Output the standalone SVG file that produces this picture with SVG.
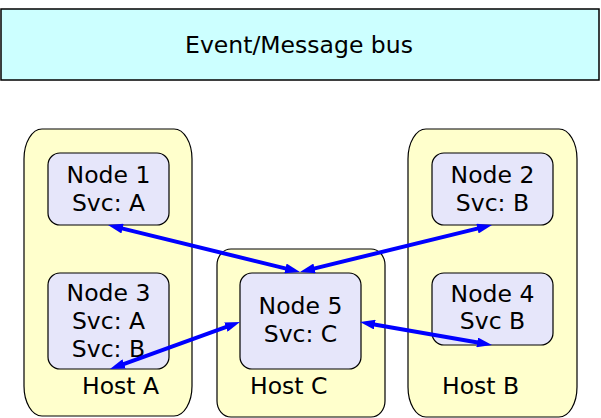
<svg xmlns="http://www.w3.org/2000/svg" width="601" height="418" viewBox="0 0 601 418">
  <style>
    text { font-family: "DejaVu Sans", "Liberation Sans", sans-serif; font-size: 23.5px; fill: #000; }
    .mid { text-anchor: middle; }
    .bus { fill: #ccffff; stroke: #000; stroke-width: 1.5; }
    .host { fill: #ffffcc; stroke: #000; stroke-width: 1.2; }
    .node { fill: #e6e6fa; stroke: #000; stroke-width: 1.2; }
    .link { stroke: #0000ff; stroke-width: 4; fill: none; marker-start: url(#arrow); marker-end: url(#arrow); }
  </style>
  <defs>
    <marker id="arrow" viewBox="0 0 15 10" refX="5" refY="5" markerWidth="15" markerHeight="10" markerUnits="userSpaceOnUse" orient="auto-start-reverse">
      <path d="M0,0 L15,5 L0,10 z" fill="#0000ff"/>
    </marker>
  </defs>

  <rect width="601" height="418" fill="#ffffff"/>

  <g id="bus">
    <rect class="bus" x="1" y="9" width="598" height="71"/>
    <text class="mid" x="299" y="53">Event/Message bus</text>
  </g>

  <g id="host-a">
    <rect class="host" x="24" y="129" width="168" height="287" rx="18" ry="30"/>
    <text x="82" y="394">Host A</text>
  </g>
  <g id="host-c">
    <rect class="host" x="217" y="249" width="168" height="168" rx="14" ry="16"/>
    <text x="250" y="394">Host C</text>
  </g>
  <g id="host-b">
    <rect class="host" x="408" y="129" width="169" height="288" rx="18" ry="30"/>
    <text x="442" y="394">Host B</text>
  </g>

  <g id="node1">
    <rect class="node" x="48" y="153" width="121" height="72" rx="12"/>
    <text class="mid" x="108.5" y="183">Node 1</text>
    <text class="mid" x="108.5" y="211">Svc: A</text>
  </g>
  <g id="node2">
    <rect class="node" x="432" y="153" width="121" height="72" rx="12"/>
    <text class="mid" x="492.5" y="183">Node 2</text>
    <text class="mid" x="492.5" y="211">Svc: B</text>
  </g>
  <g id="node3">
    <rect class="node" x="48" y="273" width="121" height="96" rx="12"/>
    <text class="mid" x="108.5" y="301">Node 3</text>
    <text class="mid" x="108.5" y="329">Svc: A</text>
    <text class="mid" x="108.5" y="357">Svc: B</text>
  </g>
  <g id="node4">
    <rect class="node" x="432" y="273" width="121" height="72" rx="12"/>
    <text class="mid" x="492.5" y="302">Node 4</text>
    <text class="mid" x="492.5" y="329">Svc B</text>
  </g>
  <g id="node5">
    <rect class="node" x="240" y="273" width="121" height="96" rx="12"/>
    <text class="mid" x="300.5" y="314">Node 5</text>
    <text class="mid" x="300.5" y="342">Svc: C</text>
  </g>

  <g id="connectors">
    <line class="link" x1="117.7" y1="227.4" x2="290.3" y2="269.6"/>
    <line class="link" x1="482.3" y1="227.4" x2="309.7" y2="269.6"/>
    <line class="link" x1="119.4" y1="365.6" x2="230.6" y2="325.4"/>
    <line class="link" x1="369.9" y1="323.7" x2="482.1" y2="343.3"/>
  </g>
</svg>
